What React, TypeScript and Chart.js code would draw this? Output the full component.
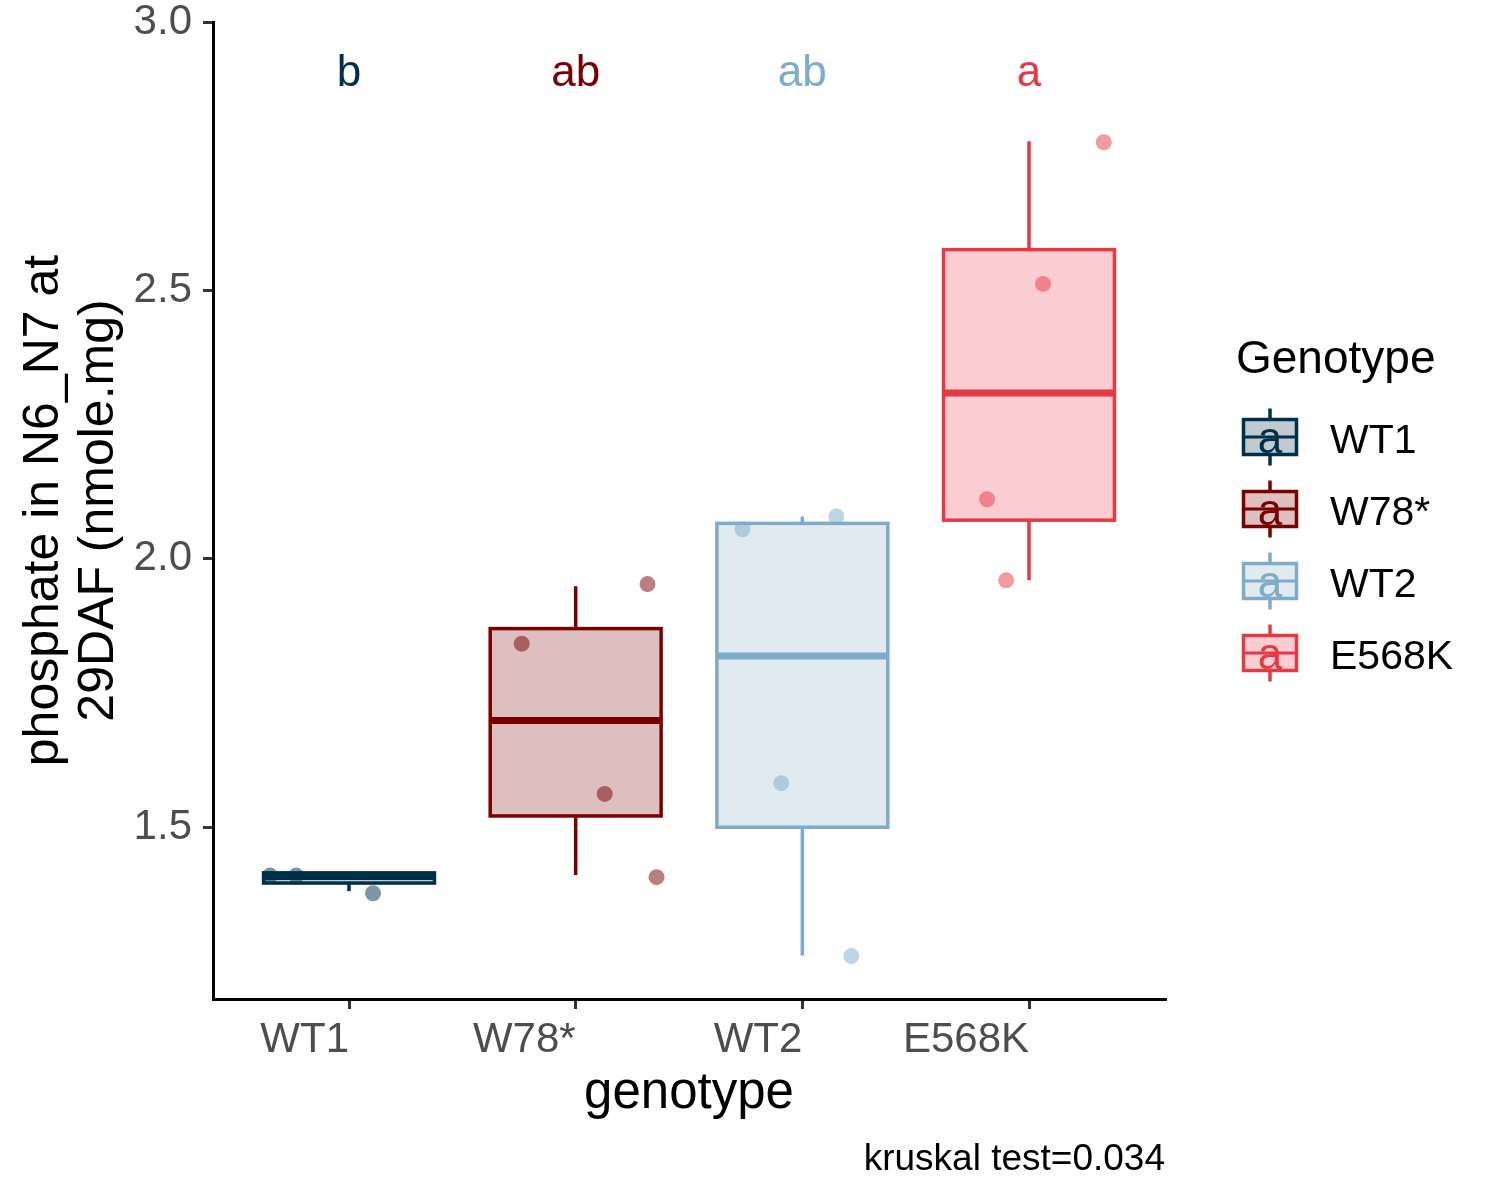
import React, { useEffect, useRef } from 'react';
import { Chart, registerables } from 'chart.js';

Chart.register(...registerables);

const FONT = '"Liberation Sans", Arial, Helvetica, sans-serif';

// ---- data ----
const categories = ['WT1', 'W78*', 'WT2', 'E568K'];
const colors = ['#003049', '#780000', '#7FABC8', '#E63946'];
const sigLetters = ['b', 'ab', 'ab', 'a'];
const letterY = 2.903;
const yTickValues = [1.5, 2.0, 2.5, 3.0];

const boxQ1 = [1.396, 1.521, 1.5, 2.072];
const boxMedian = [1.408, 1.699, 1.819, 2.309];
const boxQ3 = [1.415, 1.87, 2.066, 2.576];
const whiskerLow = [1.381, 1.411, 1.261, 1.96];
const whiskerHigh = [1.415, 1.949, 2.079, 2.778];

const wt1Values = [1.41, 1.41, 1.377];
const wt1Jitter = [-0.348, -0.233, 0.106];
const w78Values = [1.842, 1.953, 1.562, 1.407];
const w78Jitter = [-0.238, 0.317, 0.128, 0.357];
const wt2Values = [2.055, 2.079, 1.582, 1.26];
const wt2Jitter = [-0.264, 0.15, -0.093, 0.216];
const e568kValues = [2.776, 2.512, 2.111, 1.96];
const e568kJitter = [0.33, 0.062, -0.185, -0.101];

const pointValues = [wt1Values, w78Values, wt2Values, e568kValues];
const pointJitter = [wt1Jitter, w78Jitter, wt2Jitter, e568kJitter];

const xTitle = 'genotype';
const yTitle = ['phosphate in N6_N7 at', '29DAF (nmole.mg)'];
const legendTitle = 'Genotype';
const testLabel = 'kruskal test=0.034';

const BOX_HALF = 0.377;

function rgba(hex: string, a: number) {
  const n = parseInt(hex.slice(1), 16);
  return `rgba(${(n >> 16) & 255},${(n >> 8) & 255},${n & 255},${a})`;
}

const boxPlugin = {
  id: 'boxes',
  afterDatasetsDraw(chart: any) {
    const { ctx, scales } = chart;
    const x = scales.x;
    const y = scales.y;
    ctx.save();
    categories.forEach((_, i) => {
      const xl = x.getPixelForValue(i - BOX_HALF);
      const xr = x.getPixelForValue(i + BOX_HALF);
      const xc = x.getPixelForValue(i);
      const yq1 = y.getPixelForValue(boxQ1[i]);
      const yq3 = y.getPixelForValue(boxQ3[i]);
      const ym = y.getPixelForValue(boxMedian[i]);
      const ylo = y.getPixelForValue(whiskerLow[i]);
      const yhi = y.getPixelForValue(whiskerHigh[i]);
      ctx.strokeStyle = colors[i];
      ctx.lineWidth = 3.5;
      ctx.lineCap = 'butt';
      ctx.beginPath();
      ctx.moveTo(xc, yhi);
      ctx.lineTo(xc, yq3);
      ctx.moveTo(xc, yq1);
      ctx.lineTo(xc, ylo);
      ctx.stroke();
      ctx.fillStyle = rgba(colors[i], 0.25);
      ctx.fillRect(xl, yq3, xr - xl, yq1 - yq3);
      ctx.strokeRect(xl, yq3, xr - xl, yq1 - yq3);
      ctx.lineWidth = 7;
      ctx.beginPath();
      ctx.moveTo(xl, ym);
      ctx.lineTo(xr, ym);
      ctx.stroke();
    });
    ctx.restore();
  },
  afterDraw(chart: any) {
    const { ctx, scales, chartArea } = chart;
    const x = scales.x;
    const y = scales.y;
    ctx.save();
    // significance letters
    ctx.font = `44px ${FONT}`;
    ctx.textAlign = 'center';
    ctx.textBaseline = 'middle';
    categories.forEach((_, i) => {
      ctx.fillStyle = colors[i];
      ctx.fillText(sigLetters[i], x.getPixelForValue(i), y.getPixelForValue(letterY));
    });
    // test label
    ctx.font = `37px ${FONT}`;
    ctx.textAlign = 'right';
    ctx.textBaseline = 'alphabetic';
    ctx.fillStyle = '#000';
    ctx.fillText(testLabel, chartArea.right, 1170);
    // legend
    const lx = chartArea.right + 71;
    ctx.textAlign = 'left';
    ctx.font = `46px ${FONT}`;
    ctx.fillText(legendTitle, lx, 373);
    const keyCx = lx + 34;
    categories.forEach((c, i) => {
      const cy = 437 + i * 72;
      ctx.strokeStyle = colors[i];
      ctx.lineWidth = 3.5;
      ctx.beginPath();
      ctx.moveTo(keyCx, cy - 28.5);
      ctx.lineTo(keyCx, cy + 28.5);
      ctx.stroke();
      ctx.fillStyle = '#fff';
      ctx.fillRect(keyCx - 26.5, cy - 17.5, 53, 35);
      ctx.fillStyle = rgba(colors[i], 0.25);
      ctx.fillRect(keyCx - 26.5, cy - 17.5, 53, 35);
      ctx.strokeRect(keyCx - 26.5, cy - 17.5, 53, 35);
      ctx.lineWidth = 3;
      ctx.beginPath();
      ctx.moveTo(keyCx - 26.5, cy);
      ctx.lineTo(keyCx + 26.5, cy);
      ctx.stroke();
      ctx.fillStyle = colors[i];
      ctx.font = `44px ${FONT}`;
      ctx.textAlign = 'center';
      ctx.fillText('a', keyCx, cy + 16);
      ctx.fillStyle = '#000';
      ctx.font = `41px ${FONT}`;
      ctx.textAlign = 'left';
      ctx.fillText(c, lx + 94, cy + 16);
    });
    ctx.restore();
  },
};

export default function App() {
  const ref = useRef<HTMLCanvasElement | null>(null);
  useEffect(() => {
    if (!ref.current) return;
    const datasets = categories.map((c, i) => ({
      label: c,
      data: pointValues[i].map((v, k) => ({ x: i + pointJitter[i][k], y: v })),
      pointRadius: 8,
      pointHoverRadius: 8,
      pointBackgroundColor: rgba(colors[i], 0.5),
      pointBorderWidth: 0,
      showLine: false,
    }));
    const chart = new Chart(ref.current, {
      type: 'scatter',
      data: { datasets },
      plugins: [boxPlugin],
      options: {
        animation: false,
        responsive: false,
        devicePixelRatio: 1,
        layout: { padding: { top: 22, left: 0, right: 335, bottom: 75 } },
        plugins: {
          legend: { display: false },
          tooltip: { enabled: false },
          title: { display: false },
        },
        scales: {
          x: {
            type: 'linear',
            min: -0.6,
            max: 3.6,
            afterBuildTicks: (s: any) => {
              s.ticks = categories.map((_, i) => ({ value: i }));
            },
            afterFit: (s: any) => {
              s.height = 126;
            },
            ticks: {
              callback: (v: any) => categories[Math.round(Number(v))] ?? '',
              align: 'end',
              color: '#4D4D4D',
              font: { family: FONT, size: 42, lineHeight: 1.0 },
              padding: 10,
              maxRotation: 0,
              minRotation: 0,
              autoSkip: false,
            },
            grid: { drawOnChartArea: false, drawTicks: true, tickLength: 10, color: '#333333', lineWidth: 3 },
            border: { display: true, color: '#000000', width: 3 },
            title: {
              display: true,
              text: xTitle,
              color: '#000000',
              font: { family: FONT, size: 51, lineHeight: 1.2 },
              padding: 0,
            },
          },
          y: {
            type: 'linear',
            min: 1.18,
            max: 3.0,
            afterBuildTicks: (s: any) => {
              s.ticks = yTickValues.map((v) => ({ value: v }));
            },
            afterFit: (s: any) => {
              s.width = 213;
            },
            ticks: {
              callback: (v: any) => Number(v).toFixed(1),
              color: '#4D4D4D',
              font: { family: FONT, size: 42, lineHeight: 0.2 },
              padding: 11,
            },
            grid: { drawOnChartArea: false, drawTicks: true, tickLength: 10, color: '#333333', lineWidth: 3 },
            border: { display: true, color: '#000000', width: 3 },
            title: {
              display: true,
              text: yTitle,
              color: '#000000',
              font: { family: FONT, size: 50, lineHeight: 1.1 },
              padding: { top: 17, bottom: 0 },
            },
          },
        },
      } as any,
    });
    return () => chart.destroy();
  }, []);
  return (
    <div style={{ position: 'absolute', left: 0, top: 0, width: 1500, height: 1200, background: '#fff' }}>
      <canvas ref={ref} width={1500} height={1200} style={{ width: 1500, height: 1200, display: 'block' }} />
    </div>
  );
}
